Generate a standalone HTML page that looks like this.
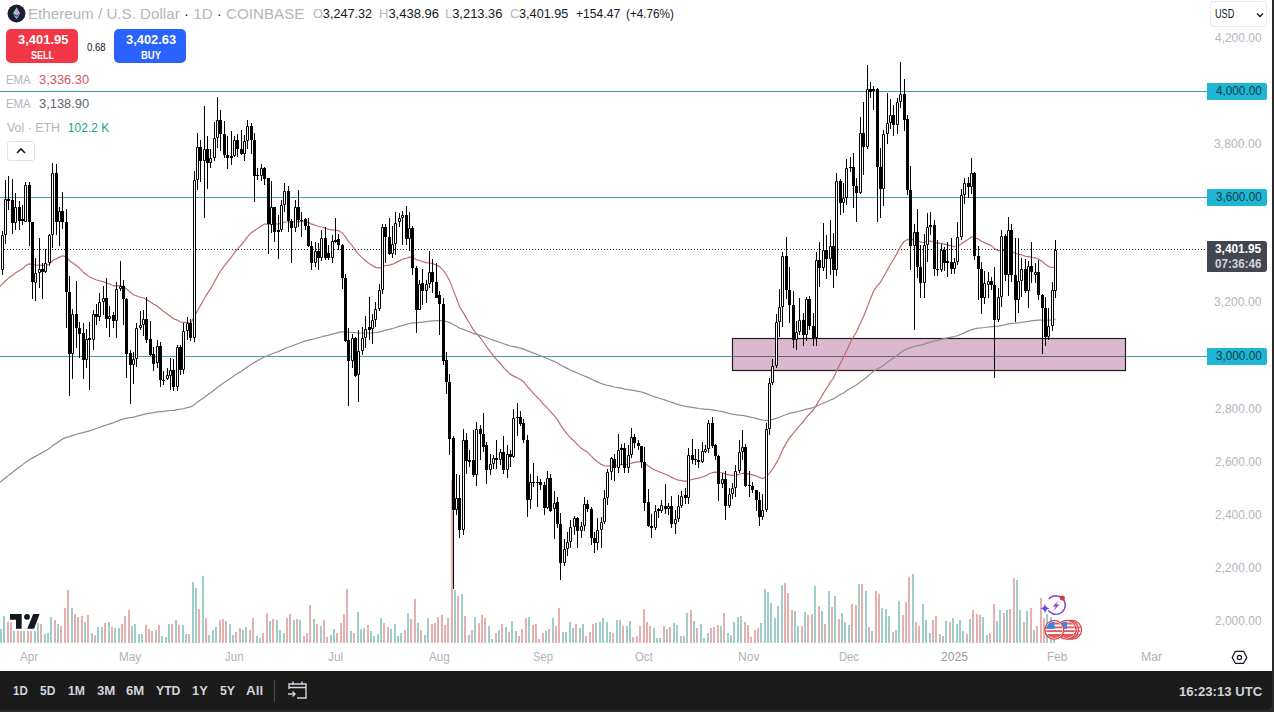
<!DOCTYPE html>
<html><head><meta charset="utf-8">
<style>
*{margin:0;padding:0;box-sizing:border-box}
html,body{width:1274px;height:712px;overflow:hidden;background:#2a2a2a;font-family:"Liberation Sans",sans-serif}
#wrap{position:absolute;left:0;top:0;width:1274px;height:712px;background:#2a2a2a}
#chartarea{position:absolute;left:0;top:0;width:1272px;height:671px;background:#fff;overflow:hidden}
.chart{position:absolute;left:0;top:0}
#toolbar{position:absolute;left:0;top:671px;width:1272px;height:39px;background:#1b1b1b;border-bottom-right-radius:5px}
.t{position:absolute;white-space:nowrap;line-height:1;transform-origin:0 0}
.title{left:30px;top:6px;font-size:15px;color:#b2b5be}
.ohlc{top:7px;font-size:13px;color:#131722}
.ohlc b{font-weight:normal;color:#b2b5be}
.btn{position:absolute;top:29px;width:72px;height:34px;border-radius:5px;color:#fff;text-align:center}
.btn .p{position:absolute;left:0;right:0;top:4px;font-size:13px;font-weight:bold;line-height:1}
.btn .l{position:absolute;left:0;right:0;top:19px;font-size:11px;line-height:1}
.leg{font-size:12px;color:#b2b5be;left:7px}
.ax{font-size:12px;color:#b2b5be;left:1215px}
.lbl{position:absolute;left:1207px;width:60px;height:17px;background:#1fb6d1;border-radius:0 2px 2px 0;color:#0d3a4c;font-size:12px;line-height:17px;padding-left:8px}
.tm{font-size:12px;color:#b2b5be;top:651px}
.tb{font-size:14px;color:#d1d4dc;top:684px;font-weight:bold}
</style></head><body><div id="wrap">
<div id="chartarea">
<svg class="chart" width="1272" height="671" viewBox="0 0 1272 671">
<path fill="#9fcdc9" d="M0 629h2V643h-2zM3 616h2V643h-2zM13 631h2V643h-2zM23 631h2V643h-2zM34 631h2V643h-2zM37 623h2V643h-2zM44 634h2V643h-2zM47 633h2V643h-2zM50 617h2V643h-2zM57 624h2V643h-2zM71 608h2V643h-2zM84 622h2V643h-2zM91 633h2V643h-2zM97 627h2V643h-2zM101 627h2V643h-2zM108 622h2V643h-2zM114 628h2V643h-2zM118 628h2V643h-2zM131 626h2V643h-2zM134 624h2V643h-2zM138 634h2V643h-2zM141 634h2V643h-2zM155 630h2V643h-2zM161 636h2V643h-2zM165 637h2V643h-2zM168 624h2V643h-2zM175 620h2V643h-2zM182 625h2V643h-2zM185 634h2V643h-2zM192 582h2V643h-2zM195 588h2V643h-2zM202 576h2V643h-2zM208 635h2V643h-2zM212 630h2V643h-2zM215 627h2V643h-2zM229 624h2V643h-2zM232 635h2V643h-2zM242 630h2V643h-2zM245 627h2V643h-2zM256 636h2V643h-2zM259 638h2V643h-2zM269 621h2V643h-2zM276 620h2V643h-2zM279 630h2V643h-2zM283 633h2V643h-2zM293 620h2V643h-2zM299 620h2V643h-2zM313 619h2V643h-2zM320 626h2V643h-2zM330 635h2V643h-2zM333 629h2V643h-2zM350 631h2V643h-2zM357 612h2V643h-2zM360 629h2V643h-2zM363 628h2V643h-2zM370 631h2V643h-2zM373 636h2V643h-2zM377 634h2V643h-2zM380 618h2V643h-2zM390 629h2V643h-2zM394 624h2V643h-2zM397 636h2V643h-2zM400 633h2V643h-2zM407 613h2V643h-2zM417 623h2V643h-2zM424 635h2V643h-2zM427 618h2V643h-2zM454 590h2V643h-2zM461 594h2V643h-2zM468 635h2V643h-2zM474 617h2V643h-2zM488 626h2V643h-2zM491 639h2V643h-2zM498 630h2V643h-2zM505 627h2V643h-2zM511 621h2V643h-2zM515 631h2V643h-2zM528 617h2V643h-2zM545 631h2V643h-2zM552 618h2V643h-2zM562 632h2V643h-2zM565 632h2V643h-2zM569 622h2V643h-2zM572 628h2V643h-2zM579 628h2V643h-2zM582 624h2V643h-2zM595 623h2V643h-2zM599 622h2V643h-2zM602 618h2V643h-2zM606 622h2V643h-2zM609 632h2V643h-2zM616 620h2V643h-2zM619 620h2V643h-2zM626 626h2V643h-2zM629 621h2V643h-2zM653 628h2V643h-2zM656 638h2V643h-2zM659 638h2V643h-2zM666 629h2V643h-2zM673 623h2V643h-2zM676 625h2V643h-2zM680 636h2V643h-2zM686 613h2V643h-2zM693 621h2V643h-2zM700 624h2V643h-2zM703 638h2V643h-2zM707 633h2V643h-2zM720 626h2V643h-2zM727 633h2V643h-2zM730 635h2V643h-2zM733 622h2V643h-2zM737 617h2V643h-2zM740 616h2V643h-2zM760 623h2V643h-2zM764 589h2V643h-2zM767 592h2V643h-2zM770 603h2V643h-2zM774 618h2V643h-2zM777 606h2V643h-2zM781 585h2V643h-2zM794 611h2V643h-2zM797 626h2V643h-2zM804 612h2V643h-2zM814 586h2V643h-2zM821 611h2V643h-2zM828 591h2V643h-2zM834 596h2V643h-2zM841 613h2V643h-2zM844 622h2V643h-2zM848 625h2V643h-2zM858 584h2V643h-2zM865 591h2V643h-2zM871 631h2V643h-2zM881 608h2V643h-2zM885 609h2V643h-2zM888 616h2V643h-2zM895 630h2V643h-2zM898 601h2V643h-2zM912 574h2V643h-2zM922 604h2V643h-2zM925 620h2V643h-2zM929 633h2V643h-2zM939 634h2V643h-2zM945 621h2V643h-2zM952 618h2V643h-2zM956 624h2V643h-2zM959 620h2V643h-2zM962 631h2V643h-2zM969 619h2V643h-2zM982 617h2V643h-2zM986 635h2V643h-2zM996 621h2V643h-2zM999 610h2V643h-2zM1006 610h2V643h-2zM1016 580h2V643h-2zM1019 610h2V643h-2zM1026 611h2V643h-2zM1033 630h2V643h-2zM1046 614h2V643h-2zM1050 617h2V643h-2zM1053 625h2V643h-2z"/>
<path fill="#e6b0ae" d="M7 622h2V643h-2zM10 622h2V643h-2zM17 631h2V643h-2zM20 631h2V643h-2zM27 631h2V643h-2zM30 631h2V643h-2zM40 624h2V643h-2zM54 620h2V643h-2zM60 626h2V643h-2zM64 608h2V643h-2zM67 590h2V643h-2zM74 614h2V643h-2zM77 617h2V643h-2zM81 616h2V643h-2zM87 615h2V643h-2zM94 635h2V643h-2zM104 623h2V643h-2zM111 627h2V643h-2zM121 624h2V643h-2zM124 616h2V643h-2zM128 610h2V643h-2zM145 625h2V643h-2zM148 629h2V643h-2zM151 631h2V643h-2zM158 625h2V643h-2zM171 624h2V643h-2zM178 625h2V643h-2zM188 634h2V643h-2zM198 609h2V643h-2zM205 618h2V643h-2zM219 620h2V643h-2zM222 619h2V643h-2zM225 621h2V643h-2zM235 632h2V643h-2zM239 628h2V643h-2zM249 630h2V643h-2zM252 618h2V643h-2zM262 633h2V643h-2zM266 613h2V643h-2zM272 619h2V643h-2zM286 618h2V643h-2zM289 614h2V643h-2zM296 619h2V643h-2zM303 636h2V643h-2zM306 633h2V643h-2zM309 605h2V643h-2zM316 624h2V643h-2zM323 620h2V643h-2zM326 637h2V643h-2zM336 633h2V643h-2zM340 623h2V643h-2zM343 614h2V643h-2zM346 589h2V643h-2zM353 633h2V643h-2zM367 625h2V643h-2zM383 623h2V643h-2zM387 627h2V643h-2zM404 630h2V643h-2zM410 619h2V643h-2zM414 599h2V643h-2zM420 630h2V643h-2zM431 624h2V643h-2zM434 623h2V643h-2zM437 617h2V643h-2zM441 615h2V643h-2zM444 625h2V643h-2zM447 618h2V643h-2zM451 480h2V643h-2zM457 596h2V643h-2zM464 616h2V643h-2zM471 630h2V643h-2zM478 623h2V643h-2zM481 615h2V643h-2zM484 618h2V643h-2zM495 633h2V643h-2zM501 624h2V643h-2zM508 632h2V643h-2zM518 636h2V643h-2zM521 629h2V643h-2zM525 618h2V643h-2zM532 625h2V643h-2zM535 624h2V643h-2zM538 639h2V643h-2zM542 633h2V643h-2zM548 629h2V643h-2zM555 626h2V643h-2zM558 608h2V643h-2zM575 624h2V643h-2zM585 636h2V643h-2zM589 632h2V643h-2zM592 624h2V643h-2zM612 633h2V643h-2zM622 626h2V643h-2zM632 637h2V643h-2zM636 636h2V643h-2zM639 626h2V643h-2zM643 609h2V643h-2zM646 622h2V643h-2zM649 626h2V643h-2zM663 626h2V643h-2zM669 627h2V643h-2zM683 636h2V643h-2zM690 610h2V643h-2zM696 628h2V643h-2zM710 628h2V643h-2zM713 627h2V643h-2zM717 625h2V643h-2zM723 613h2V643h-2zM744 622h2V643h-2zM747 625h2V643h-2zM750 637h2V643h-2zM754 630h2V643h-2zM757 628h2V643h-2zM784 583h2V643h-2zM787 593h2V643h-2zM791 610h2V643h-2zM801 626h2V643h-2zM807 615h2V643h-2zM811 614h2V643h-2zM818 606h2V643h-2zM824 624h2V643h-2zM831 607h2V643h-2zM838 619h2V643h-2zM851 604h2V643h-2zM855 605h2V643h-2zM861 584h2V643h-2zM868 627h2V643h-2zM875 591h2V643h-2zM878 594h2V643h-2zM892 632h2V643h-2zM902 615h2V643h-2zM905 602h2V643h-2zM908 577h2V643h-2zM915 622h2V643h-2zM918 626h2V643h-2zM932 620h2V643h-2zM935 616h2V643h-2zM942 636h2V643h-2zM949 622h2V643h-2zM966 634h2V643h-2zM972 610h2V643h-2zM976 614h2V643h-2zM979 615h2V643h-2zM989 633h2V643h-2zM993 604h2V643h-2zM1003 613h2V643h-2zM1009 609h2V643h-2zM1013 578h2V643h-2zM1023 622h2V643h-2zM1030 608h2V643h-2zM1036 626h2V643h-2zM1040 598h2V643h-2zM1043 618h2V643h-2z"/>
<path d="M0 91.5H1207" stroke="#4c9ba8" stroke-width="1"/>
<path d="M0 197.5H1207" stroke="#4c9ba8" stroke-width="1"/>
<path d="M0 356.5H1207" stroke="#4c9ba8" stroke-width="1"/>
<rect x="732.5" y="338.5" width="393" height="32" fill="#dcb8cf" stroke="#221c22" stroke-width="1.2"/>
<path d="M733 356.5H1125" stroke="#60627e" stroke-width="1"/>
<path d="M1 249.5H1207" stroke="#131722" stroke-width="1" stroke-dasharray="1 2"/>
<polyline fill="none" stroke="#c06c72" stroke-width="1.2" stroke-linejoin="round" points="0,286.4 2.2,284.1 5.6,280.8 9,277.6 12.3,275.5 15.7,272.8 19.1,270.8 22.4,268.8 25.8,265.6 29.2,263.8 32.5,264.6 35.9,264.9 39.3,265.1 42.6,265.3 46,265.2 49.4,264 52.7,260.5 56.1,258.9 59.5,257.1 62.8,255.7 66.2,257.1 69.6,260.9 72.9,263 76.3,265.6 79.6,268.2 83,271.9 86.4,274.5 89.7,277.1 93.1,278.5 96.5,280 99.8,280.9 103.2,281.6 106.6,283.1 109.9,284.3 113.3,285.8 116.7,285.9 120,285.9 123.4,286.4 126.8,289.1 130.1,292.1 133.5,294.7 136.9,296 140.2,297.2 143.6,298 146.9,299.7 150.3,301.8 153.7,304.3 157,305.9 160.4,308.8 163.8,311.6 167.1,314.1 170.5,316.2 173.9,319 177.2,320.1 180.6,322.1 184,322.4 187.3,322.4 190.7,323 194.1,317.4 197.4,310.7 200.8,304.9 204.2,298.8 207.5,293.4 210.9,288.1 214.2,282.2 217.6,275.9 221,270.3 224.3,265.8 227.7,261.6 231.1,257.4 234.4,252.8 237.8,248.7 241.2,245 244.5,240.9 247.9,236.4 251.3,232.7 254.6,230.4 258,228.2 261.4,225.9 264.7,224 268.1,224.1 271.5,223.4 274.8,223.8 278.2,224 281.5,223.2 284.9,222 288.3,222 291.6,222.2 295,221.6 298.4,221.6 301.7,221.5 305.1,221.6 308.5,222.6 311.8,224.2 315.2,225.2 318.6,226.5 321.9,227 325.3,228.2 328.7,229.4 332,229.8 335.4,230.2 338.8,230.8 342.1,232.7 345.5,236.9 348.8,241.8 352.2,245.6 355.6,250.7 358.9,254.6 362.3,257.9 365.7,260.7 369,263.4 372.4,265.6 375.8,267.4 379.1,268.2 382.5,266.6 385.9,265.5 389.2,265.1 392.6,264.2 396,262.6 399.3,260.9 402.7,259 406.1,258.3 409.4,257.1 412.8,257.5 416.1,259.6 419.5,260.5 422.9,261.7 426.2,262.6 429.6,263 433,263.7 436.3,265.1 439.7,266.6 443.1,270.3 446.4,274.7 449.8,281.1 453.2,290.1 456.5,298.3 459.9,307.4 463.3,312.6 466.6,318.4 470,324 473.4,329.9 476.7,333.8 480.1,337.7 483.4,342 486.8,347 490.2,351.6 493.5,355.8 496.9,359.9 500.3,363.5 503.6,367.6 507,371 510.4,374.4 513.7,376.1 517.1,377.7 520.5,379.5 523.8,381.9 527.2,386.5 530.6,390.2 533.9,393.9 537.3,397.4 540.7,400.8 544,405 547.4,407.9 550.7,411.9 554.1,415.5 557.5,419.8 560.8,425.4 564.2,430.2 567.6,434.6 570.9,438.2 574.3,441.4 577.7,444.9 581,448.1 584.4,450.2 587.8,452.6 591.1,455.9 594.5,459.3 597.9,462.1 601.2,464.4 604.6,465.8 608,466 611.3,465.7 614.7,465.8 618,465.2 621.4,464.5 624.8,464.7 628.1,464.3 631.5,463.2 634.9,462.4 638.2,461.8 641.6,461.8 645,463.4 648.3,465.9 651.7,468.3 655.1,470 658.4,471.5 661.8,472.8 665.2,474.2 668.5,475.5 671.9,477.4 675.2,479 678.6,480.1 682,480.7 685.3,481.3 688.7,480.3 692.1,479.5 695.4,478.7 698.8,478.1 702.2,477 705.5,475.9 708.9,473.8 712.3,472.7 715.6,472.1 719,472.5 722.4,472.8 725.7,474.1 729.1,474.9 732.5,475.4 735.8,475.2 739.2,474.3 742.6,473.2 745.9,473.7 749.3,474.2 752.6,474.8 756,475.8 759.4,477.4 762.7,478.7 766.1,476.8 769.5,473.1 772.8,468.9 776.2,463.1 779.6,457 782.9,449.1 786.3,442.9 789.7,437.5 793,433.7 796.4,429.7 799.8,425.4 803.1,421.9 806.5,417.1 809.9,413.5 813.2,410.5 816.6,404.6 819.9,399.3 823.3,393.4 826.7,388.2 830,382.6 833.4,378.2 836.8,370.5 840.1,363.9 843.5,357.4 846.9,350 850.2,342.8 853.6,336.7 857,331 860.3,323.2 863.7,316.3 867.1,307.4 870.4,298.9 873.8,290.7 877.2,285.9 880.5,282.1 883.9,276.3 887.2,270.3 890.6,264.2 894,258.7 897.3,252.6 900.7,246.4 904.1,241.4 907.4,239.4 910.8,239.7 914.2,239.4 917.5,240.5 920.9,242.2 924.3,242.3 927.6,241.7 931,241 934.4,242.1 937.7,243.2 941.1,243.4 944.5,244.2 947.8,244.9 951.2,245.8 954.5,246.5 957.9,246.1 961.3,244.1 964.6,241.7 968,239.6 971.4,236.9 974.7,237.7 978.1,238.9 981.5,241.2 984.8,242.9 988.2,244.4 991.6,245.9 994.9,248.9 998.3,250.7 1001.7,250.1 1005,251.1 1008.4,250.3 1011.8,251.3 1015.1,253.2 1018.5,254.3 1021.8,254.8 1025.2,256.3 1028.6,256.7 1031.9,257.3 1035.3,257.8 1038.7,259.3 1042,261.2 1045.4,264.2 1048.8,266.6 1052.1,267.5 1055.5,266.8"/>
<polyline fill="none" stroke="#8e8e8e" stroke-width="1.2" stroke-linejoin="round" points="0,482.4 2.2,480.5 5.6,477.7 9,474.9 12.3,472.4 15.7,469.8 19.1,467.3 22.4,464.9 25.8,462.1 29.2,459.7 32.5,457.9 35.9,456.1 39.3,454.2 42.6,452.4 46,450.5 49.4,448.4 52.7,445.6 56.1,443.4 59.5,441.1 62.8,438.9 66.2,437.4 69.6,436.6 72.9,435.4 76.3,434.3 79.6,433.3 83,432.6 86.4,431.7 89.7,430.8 93.1,429.6 96.5,428.5 99.8,427.2 103.2,425.9 106.6,424.9 109.9,423.8 113.3,422.8 116.7,421.4 120,420.1 123.4,418.9 126.8,418.2 130.1,417.7 133.5,417.1 136.9,416.2 140.2,415.3 143.6,414.4 146.9,413.6 150.3,413.1 153.7,412.6 157,411.9 160.4,411.6 163.8,411.3 167.1,410.9 170.5,410.5 173.9,410.3 177.2,409.6 180.6,409.2 184,408.5 187.3,407.6 190.7,406.9 194.1,404.7 197.4,402.1 200.8,399.7 204.2,397.2 207.5,394.9 210.9,392.5 214.2,390 217.6,387.3 221,384.8 224.3,382.5 227.7,380.2 231.1,378 234.4,375.6 237.8,373.4 241.2,371.2 244.5,368.9 247.9,366.5 251.3,364.2 254.6,362.4 258,360.5 261.4,358.6 264.7,356.8 268.1,355.5 271.5,354 274.8,352.8 278.2,351.6 281.5,350.1 284.9,348.5 288.3,347.3 291.6,346.1 295,344.7 298.4,343.5 301.7,342.2 305.1,341.1 308.5,340.1 311.8,339.4 315.2,338.5 318.6,337.7 321.9,336.7 325.3,335.9 328.7,335.1 332,334.2 335.4,333.3 338.8,332.4 342.1,331.8 345.5,331.9 348.8,332.2 352.2,332.3 355.6,332.7 358.9,332.9 362.3,333 365.7,332.9 369,332.9 372.4,332.8 375.8,332.5 379.1,332.1 382.5,331.1 385.9,330.1 389.2,329.4 392.6,328.5 396,327.5 399.3,326.4 402.7,325.3 406.1,324.4 409.4,323.5 412.8,322.9 416.1,322.8 419.5,322.4 422.9,322.1 426.2,321.7 429.6,321.2 433,320.8 436.3,320.6 439.7,320.4 443.1,320.8 446.4,321.5 449.8,322.6 453.2,324.5 456.5,326.2 459.9,328.2 463.3,329.4 466.6,330.7 470,332 473.4,333.4 476.7,334.3 480.1,335.3 483.4,336.4 486.8,337.8 490.2,339 493.5,340.2 496.9,341.4 500.3,342.5 503.6,343.8 507,344.9 510.4,346 513.7,346.7 517.1,347.4 520.5,348.1 523.8,349.1 527.2,350.6 530.6,351.9 533.9,353.2 537.3,354.5 540.7,355.8 544,357.3 547.4,358.5 550.7,360 554.1,361.4 557.5,363 560.8,365 564.2,366.9 567.6,368.6 570.9,370.2 574.3,371.6 577.7,373.2 581,374.8 584.4,376 587.8,377.4 591.1,379 594.5,380.6 597.9,382.1 601.2,383.5 604.6,384.6 608,385.5 611.3,386.2 614.7,387 618,387.6 621.4,388.2 624.8,389.1 628.1,389.7 631.5,390.2 634.9,390.7 638.2,391.3 641.6,392 645,393.1 648.3,394.4 651.7,395.7 655.1,396.9 658.4,398 661.8,399 665.2,400.1 668.5,401.2 671.9,402.4 675.2,403.6 678.6,404.6 682,405.5 685.3,406.4 688.7,406.9 692.1,407.4 695.4,407.9 698.8,408.5 702.2,408.9 705.5,409.3 708.9,409.4 712.3,409.8 715.6,410.3 719,411 722.4,411.7 725.7,412.6 729.1,413.4 732.5,414.2 735.8,414.7 739.2,415.1 742.6,415.4 745.9,416.1 749.3,416.8 752.6,417.5 756,418.4 759.4,419.3 762.7,420.2 766.1,420.3 769.5,420 772.8,419.4 776.2,418.4 779.6,417.3 782.9,415.7 786.3,414.5 789.7,413.4 793,412.7 796.4,411.9 799.8,411 803.1,410.2 806.5,409.1 809.9,408.3 813.2,407.6 816.6,406.1 819.9,404.7 823.3,403.2 826.7,401.8 830,400.2 833.4,398.9 836.8,396.8 840.1,394.8 843.5,392.9 846.9,390.6 850.2,388.4 853.6,386.4 857,384.5 860.3,382 863.7,379.6 867.1,376.7 870.4,373.9 873.8,371.1 877.2,369 880.5,367.2 883.9,364.9 887.2,362.5 890.6,360.1 894,357.7 897.3,355.2 900.7,352.6 904.1,350.3 907.4,348.7 910.8,347.7 914.2,346.5 917.5,345.7 920.9,345.1 924.3,344.1 927.6,342.9 931,341.8 934.4,341 937.7,340.3 941.1,339.4 944.5,338.7 947.8,337.9 951.2,337.2 954.5,336.5 957.9,335.5 961.3,334.1 964.6,332.6 968,331.1 971.4,329.6 974.7,328.8 978.1,328.2 981.5,327.9 984.8,327.5 988.2,327 991.6,326.6 994.9,326.5 998.3,326.2 1001.7,325.3 1005,324.8 1008.4,323.9 1011.8,323.4 1015.1,323.2 1018.5,322.8 1021.8,322.2 1025.2,321.9 1028.6,321.4 1031.9,320.9 1035.3,320.4 1038.7,320.1 1042,320 1045.4,320.2 1048.8,320.2 1052.1,319.9 1055.5,319.2"/>
<path stroke="#000" stroke-width="1" d="M2.5 231V235M2.5 270V275M5.5 180V199M5.5 235V244M8.5 176V199M8.5 201V210M12.5 179V200M12.5 223V234M15.5 193V207M15.5 223V230M19.5 201V207M19.5 221V230M22.5 205V219M22.5 221V225M25.5 182V185M29.5 182V185M29.5 222V246M32.5 282V299M35.5 258V273M35.5 283V301M39.5 238V269M39.5 273V288M42.5 263V269M42.5 272V299M45.5 249V263M45.5 272V273M49.5 234V235M49.5 263V266M52.5 163V173M52.5 235V248M56.5 164V173M56.5 222V235M59.5 207V211M59.5 222V246M62.5 192V211M62.5 222V229M66.5 209V222M66.5 292V328M69.5 276V292M69.5 354V396M72.5 309V314M72.5 354V379M76.5 281V314M76.5 328V348M79.5 322V328M79.5 334V358M83.5 323V333M83.5 360V379M86.5 329V339M86.5 360V368M89.5 322V338M89.5 340V390M93.5 310V314M93.5 340V350M96.5 304V314M96.5 317V325M99.5 293V302M99.5 317V321M103.5 286V298M103.5 302V315M106.5 278V298M106.5 319V328M109.5 306V316M109.5 319V337M113.5 312V315M113.5 321V328M116.5 282V289M116.5 321V338M120.5 261V286M120.5 289V291M123.5 280V286M123.5 299V325M126.5 298V299M126.5 354V378M130.5 350V353M130.5 365V404M133.5 352V359M133.5 365V384M136.5 323V328M136.5 359V367M140.5 311V325M140.5 328V330M143.5 310V319M143.5 325V336M146.5 297V319M146.5 340V343M150.5 321V339M150.5 355V356M153.5 347V354M153.5 364V371M157.5 340V346M157.5 363V368M160.5 342V346M160.5 380V387M163.5 371V380M163.5 381V385M167.5 368V375M167.5 379V380M170.5 358V370M170.5 376V390M173.5 359V370M173.5 387V391M177.5 345V347M177.5 387V391M180.5 345V347M180.5 370V375M183.5 323V331M183.5 370V374M187.5 317V323M187.5 331V340M190.5 319V323M190.5 338V341M194.5 171V180M194.5 338V342M197.5 133V147M197.5 180V190M200.5 140V147M200.5 161V182M204.5 106V149M204.5 161V218M207.5 136V149M207.5 163V189M210.5 149V158M210.5 163V168M214.5 122V138M214.5 158V161M217.5 97V120M217.5 138V148M220.5 110V120M220.5 134V151M224.5 121V134M224.5 155V158M227.5 136V155M227.5 158V169M231.5 131V156M231.5 158V165M234.5 136V140M234.5 156V157M237.5 134V140M237.5 149V157M241.5 130V149M241.5 154V155M244.5 135V141M244.5 154V161M247.5 120V126M247.5 141V149M251.5 123V126M251.5 140V154M254.5 133V140M254.5 176V202M257.5 168V175M257.5 176V180M261.5 164V168M261.5 176V181M264.5 167V168M264.5 179V185M268.5 224V254M271.5 181V207M271.5 225V233M274.5 232V242M278.5 215V230M278.5 232V259M281.5 200V205M281.5 230V232M284.5 183V191M284.5 205V212M288.5 186V191M288.5 221V232M291.5 219V221M291.5 228V263M295.5 200V207M295.5 228V232M298.5 190V207M298.5 220V227M301.5 212V220M301.5 221V237M305.5 218V219M305.5 226V230M308.5 218V226M308.5 246V247M311.5 241V246M311.5 263V270M315.5 242V251M315.5 263V267M318.5 243V251M318.5 258V270M321.5 230V238M321.5 258V261M325.5 227V238M325.5 258V260M328.5 245V253M328.5 258V260M332.5 235V241M332.5 258V263M335.5 218V240M335.5 242V243M338.5 234V239M338.5 245V250M342.5 244V245M342.5 278V289M345.5 274V278M345.5 341V342M348.5 328V340M348.5 361V406M352.5 334V338M352.5 361V368M355.5 337V338M355.5 376V377M358.5 330V351M358.5 375V402M362.5 327V338M362.5 351V355M365.5 316V329M365.5 338V348M369.5 297V327M369.5 330V340M372.5 314V320M372.5 329V344M375.5 302V309M375.5 320V327M379.5 284V290M379.5 309V311M382.5 224V227M382.5 290V294M385.5 224V227M385.5 237V263M389.5 218V237M389.5 254V255M392.5 226V244M392.5 254V258M395.5 212V223M395.5 244V255M399.5 213V218M399.5 222V227M402.5 211V215M402.5 218V245M406.5 206V215M406.5 239V245M409.5 212V228M409.5 239V251M412.5 226V228M412.5 268V275M416.5 266V268M416.5 310V333M419.5 280V284M422.5 269V283M422.5 291V305M426.5 280V284M426.5 291V303M429.5 251V272M429.5 284V288M432.5 259V272M432.5 282V293M436.5 263V282M439.5 291V295M439.5 304V335M443.5 298V304M443.5 361V365M446.5 352V360M446.5 382V394M449.5 374V382M449.5 439V455M453.5 436V438M453.5 510V589M456.5 474V498M456.5 510V515M459.5 475V498M459.5 530V538M463.5 429V440M463.5 530V535M466.5 433V440M466.5 461V474M469.5 450V460M469.5 462V467M473.5 430V460M473.5 475V477M476.5 422V429M476.5 475V486M480.5 425V429M480.5 434V460M483.5 413V434M483.5 447V452M486.5 442V445M486.5 470V484M490.5 454V464M490.5 470V475M493.5 455V458M493.5 464V469M496.5 440V458M496.5 460V469M500.5 449V452M500.5 460V465M503.5 436V452M503.5 470V474M507.5 445V454M507.5 470V478M510.5 450V454M510.5 457V467M513.5 409V418M513.5 457V458M517.5 403V417M517.5 418V436M520.5 411V417M520.5 424V426M523.5 419V423M523.5 440V443M527.5 435V440M527.5 500V517M530.5 474V482M530.5 500V509M533.5 463V482M533.5 483V487M537.5 476V482M537.5 483V507M540.5 479V482M540.5 485V490M544.5 482V485M544.5 508V515M547.5 471V478M547.5 508V509M550.5 474V478M550.5 511V512M554.5 491V503M554.5 509V539M557.5 497V502M557.5 524V528M560.5 513V524M560.5 563V580M564.5 539V549M564.5 563V566M567.5 532V542M567.5 549V556M570.5 520V527M570.5 542V548M574.5 516V518M574.5 527V535M577.5 517V518M577.5 531V548M581.5 522V526M581.5 531V538M584.5 497V504M584.5 526V531M587.5 500V504M587.5 509V512M591.5 507V509M591.5 538V545M594.5 532V538M594.5 543V553M597.5 518V530M597.5 543V550M601.5 517V522M601.5 530V548M604.5 490V498M604.5 522V524M607.5 469V472M607.5 498V505M611.5 457V458M611.5 472V480M614.5 454V459M614.5 468V481M618.5 434V450M618.5 468V473M621.5 444V448M621.5 450V465M624.5 443V448M624.5 468V473M628.5 445V455M628.5 468V473M631.5 428V437M631.5 455V458M634.5 434V437M634.5 443V448M638.5 440V443M638.5 446V450M641.5 462V468M644.5 447V462M644.5 503V511M648.5 489V502M648.5 526V527M651.5 514V526M651.5 528V538M655.5 505V511M655.5 528V530M658.5 508V509M658.5 511V518M661.5 500V505M661.5 511V513M665.5 484V506M665.5 509V514M668.5 503V506M668.5 509V515M671.5 496V506M671.5 524V528M675.5 510V519M675.5 524V534M678.5 495V506M678.5 519V522M681.5 491V496M681.5 506V508M685.5 488V495M685.5 498V504M688.5 448V455M688.5 498V504M692.5 439V455M692.5 460V464M695.5 449V459M695.5 460V465M698.5 449V460M698.5 462V468M702.5 442V451M702.5 462V463M705.5 445V449M705.5 452V453M708.5 420V423M708.5 449V453M712.5 417V423M712.5 446V448M715.5 444V445M715.5 456V460M718.5 455V456M718.5 484V501M722.5 473V479M722.5 484V488M725.5 471V479M725.5 506V520M729.5 488V494M729.5 506V508M732.5 483V488M732.5 494V499M735.5 465V471M735.5 488V497M739.5 440V452M739.5 471V473M742.5 430V447M742.5 452V460M745.5 444V447M745.5 486V487M749.5 471V485M749.5 486V497M752.5 482V486M752.5 490V493M756.5 500V511M759.5 492V500M759.5 517V526M762.5 494V510M762.5 517V520M766.5 423V429M766.5 510V512M769.5 378V383M769.5 429V435M772.5 359V366M772.5 383V385M776.5 314V322M776.5 366V368M779.5 289V307M779.5 322V337M782.5 252V256M782.5 307V327M786.5 237V256M786.5 290V299M789.5 267V290M789.5 305V323M793.5 291V305M793.5 340V348M796.5 321V332M796.5 340V350M799.5 298V320M799.5 332V335M803.5 313V320M803.5 335V346M806.5 297V299M806.5 335V341M809.5 296V299M809.5 326V330M813.5 313V326M813.5 338V346M816.5 252V260M816.5 338V346M819.5 242V260M819.5 268V287M823.5 223V250M823.5 268V271M826.5 235V250M826.5 259V279M830.5 220V246M830.5 259V275M833.5 233V246M833.5 270V288M836.5 173V181M836.5 270V276M840.5 179V181M840.5 203V215M843.5 183V198M843.5 203V213M846.5 159V168M846.5 198V205M850.5 157V167M850.5 168V172M853.5 153V167M853.5 186V208M856.5 178V186M856.5 193V222M860.5 117V133M860.5 193V194M863.5 102V133M863.5 147V175M867.5 65V89M867.5 147V149M870.5 82V89M870.5 92V98M873.5 86V89M873.5 91V110M877.5 88V89M877.5 167V222M880.5 148V167M880.5 189V218M883.5 130V134M883.5 189V206M887.5 93V123M887.5 134V144M890.5 99V115M890.5 123V129M893.5 105V115M893.5 125V136M897.5 98V102M897.5 125V134M900.5 62V94M900.5 102V108M904.5 79V94M904.5 120V131M907.5 115V119M907.5 190V195M910.5 166V190M910.5 246V270M914.5 224V232M914.5 246V330M917.5 209V232M917.5 267V278M920.5 245V267M920.5 283V298M924.5 234V245M924.5 283V298M927.5 213V227M927.5 245V262M930.5 212V225M930.5 227V235M934.5 220V225M934.5 269V276M937.5 240V269M937.5 270V276M941.5 244V250M941.5 270V272M944.5 247V250M944.5 263V271M947.5 242V261M947.5 263V277M951.5 238V262M951.5 269V274M954.5 258V262M954.5 269V274M957.5 222V237M957.5 262V265M961.5 189V195M961.5 237V240M964.5 178V183M964.5 195V204M968.5 177V183M968.5 187V198M971.5 158V173M971.5 187V194M974.5 172V173M974.5 256V260M978.5 246V256M978.5 269V300M981.5 262V269M981.5 298V314M984.5 271V283M984.5 298V304M988.5 272V281M988.5 285V298M991.5 277V281M991.5 285V290M994.5 267V285M994.5 320V378M998.5 288V297M998.5 320V322M1001.5 230V236M1001.5 297V307M1005.5 234V236M1005.5 275V281M1008.5 217V230M1008.5 275V296M1011.5 224V230M1011.5 275V282M1015.5 238V275M1015.5 300V322M1018.5 238V281M1018.5 300V313M1021.5 258V269M1021.5 281V297M1025.5 259V269M1025.5 291V293M1028.5 261V266M1028.5 291V308M1031.5 242V266M1031.5 272V283M1035.5 263V272M1035.5 275V283M1038.5 260V272M1038.5 295V300M1042.5 294V295M1042.5 308V354M1045.5 297V308M1045.5 337V346M1048.5 308V326M1048.5 337V340M1052.5 282V290M1052.5 326V331M1055.5 240V250M1055.5 291V298"/>
<path fill="#000" d="M7 199h3v2h-3zM11 200h3v23h-3zM18 207h3v14h-3zM21 219h3v2h-3zM28 185h3v37h-3zM31 222h3v60h-3zM41 269h3v3h-3zM55 173h3v49h-3zM61 211h3v11h-3zM65 222h3v70h-3zM68 292h3v62h-3zM75 314h3v14h-3zM78 328h3v6h-3zM82 333h3v27h-3zM88 338h3v2h-3zM95 314h3v3h-3zM105 298h3v21h-3zM112 315h3v6h-3zM122 286h3v13h-3zM125 299h3v55h-3zM129 353h3v12h-3zM145 319h3v21h-3zM149 339h3v16h-3zM152 354h3v10h-3zM159 346h3v34h-3zM162 380h3v1h-3zM172 370h3v17h-3zM179 347h3v23h-3zM189 323h3v15h-3zM199 147h3v14h-3zM206 149h3v14h-3zM219 120h3v14h-3zM223 134h3v21h-3zM226 155h3v3h-3zM230 156h3v2h-3zM236 140h3v9h-3zM240 149h3v5h-3zM250 126h3v14h-3zM253 140h3v36h-3zM256 175h3v1h-3zM263 168h3v11h-3zM267 178h3v46h-3zM273 207h3v25h-3zM277 230h3v2h-3zM287 191h3v30h-3zM290 221h3v7h-3zM297 207h3v13h-3zM300 220h3v1h-3zM304 219h3v7h-3zM307 226h3v20h-3zM310 246h3v17h-3zM317 251h3v7h-3zM324 238h3v20h-3zM327 253h3v5h-3zM334 240h3v2h-3zM337 239h3v6h-3zM341 245h3v33h-3zM344 278h3v63h-3zM347 340h3v21h-3zM354 338h3v38h-3zM368 327h3v3h-3zM384 227h3v10h-3zM388 237h3v17h-3zM405 215h3v24h-3zM411 228h3v40h-3zM415 268h3v42h-3zM421 283h3v8h-3zM431 272h3v10h-3zM435 282h3v16h-3zM438 295h3v9h-3zM442 304h3v57h-3zM445 360h3v22h-3zM448 382h3v57h-3zM452 438h3v72h-3zM458 498h3v32h-3zM465 440h3v21h-3zM468 460h3v2h-3zM472 460h3v15h-3zM479 429h3v5h-3zM482 434h3v13h-3zM485 445h3v25h-3zM495 458h3v2h-3zM502 452h3v18h-3zM509 454h3v3h-3zM516 417h3v1h-3zM519 417h3v7h-3zM522 423h3v17h-3zM526 440h3v60h-3zM532 482h3v1h-3zM536 482h3v1h-3zM539 482h3v3h-3zM543 485h3v23h-3zM549 478h3v33h-3zM556 502h3v22h-3zM559 524h3v39h-3zM576 518h3v13h-3zM586 504h3v5h-3zM590 509h3v29h-3zM593 538h3v5h-3zM613 459h3v9h-3zM620 448h3v2h-3zM623 448h3v20h-3zM633 437h3v6h-3zM637 443h3v3h-3zM640 446h3v16h-3zM643 462h3v41h-3zM647 502h3v24h-3zM650 526h3v2h-3zM657 509h3v2h-3zM664 506h3v3h-3zM670 506h3v18h-3zM684 495h3v3h-3zM691 455h3v5h-3zM694 459h3v1h-3zM697 460h3v2h-3zM711 423h3v23h-3zM714 445h3v11h-3zM717 456h3v28h-3zM724 479h3v27h-3zM744 447h3v39h-3zM748 485h3v1h-3zM751 486h3v4h-3zM755 490h3v10h-3zM758 500h3v17h-3zM785 256h3v34h-3zM788 290h3v15h-3zM792 305h3v35h-3zM802 320h3v15h-3zM808 299h3v27h-3zM812 326h3v12h-3zM818 260h3v8h-3zM825 250h3v9h-3zM832 246h3v24h-3zM839 181h3v22h-3zM849 167h3v1h-3zM852 167h3v19h-3zM855 186h3v7h-3zM862 133h3v14h-3zM869 89h3v3h-3zM872 89h3v2h-3zM876 89h3v78h-3zM879 167h3v22h-3zM892 115h3v10h-3zM903 94h3v26h-3zM906 119h3v71h-3zM909 190h3v56h-3zM916 232h3v35h-3zM919 267h3v16h-3zM929 225h3v2h-3zM933 225h3v44h-3zM936 269h3v1h-3zM943 250h3v13h-3zM946 261h3v2h-3zM950 262h3v7h-3zM967 183h3v4h-3zM973 173h3v83h-3zM977 256h3v13h-3zM980 269h3v29h-3zM990 281h3v4h-3zM993 285h3v35h-3zM1004 236h3v39h-3zM1010 230h3v45h-3zM1014 275h3v25h-3zM1024 269h3v22h-3zM1030 266h3v6h-3zM1037 272h3v23h-3zM1041 295h3v13h-3zM1044 308h3v29h-3z"/>
<path fill="#fff" stroke="#000" stroke-width="1" d="M1.5 235.5 h2v34h-2zM4.5 199.5 h2v35h-2zM14.5 207.5 h2v15h-2zM24.5 185.5 h2v36h-2zM34.5 273.5 h2v9h-2zM38.5 269.5 h2v3h-2zM44.5 263.5 h2v8h-2zM48.5 235.5 h2v27h-2zM51.5 173.5 h2v61h-2zM58.5 211.5 h2v10h-2zM71.5 314.5 h2v39h-2zM85.5 339.5 h2v20h-2zM92.5 314.5 h2v25h-2zM98.5 302.5 h2v14h-2zM102.5 298.5 h2v3h-2zM108.5 316.5 h2v2h-2zM115.5 289.5 h2v31h-2zM119.5 286.5 h2v2h-2zM132.5 359.5 h2v5h-2zM135.5 328.5 h2v30h-2zM139.5 325.5 h2v2h-2zM142.5 319.5 h2v5h-2zM156.5 346.5 h2v16h-2zM166.5 375.5 h2v3h-2zM169.5 370.5 h2v5h-2zM176.5 347.5 h2v39h-2zM182.5 331.5 h2v38h-2zM186.5 323.5 h2v7h-2zM193.5 180.5 h2v157h-2zM196.5 147.5 h2v32h-2zM203.5 149.5 h2v11h-2zM209.5 158.5 h2v4h-2zM213.5 138.5 h2v19h-2zM216.5 120.5 h2v17h-2zM233.5 140.5 h2v15h-2zM243.5 141.5 h2v12h-2zM246.5 126.5 h2v14h-2zM260.5 168.5 h2v7h-2zM270.5 207.5 h2v17h-2zM280.5 205.5 h2v24h-2zM283.5 191.5 h2v13h-2zM294.5 207.5 h2v20h-2zM314.5 251.5 h2v11h-2zM320.5 238.5 h2v19h-2zM331.5 241.5 h2v16h-2zM351.5 338.5 h2v22h-2zM357.5 351.5 h2v23h-2zM361.5 338.5 h2v12h-2zM364.5 329.5 h2v8h-2zM371.5 320.5 h2v8h-2zM374.5 309.5 h2v10h-2zM378.5 290.5 h2v18h-2zM381.5 227.5 h2v62h-2zM391.5 244.5 h2v9h-2zM394.5 223.5 h2v20h-2zM398.5 218.5 h2v3h-2zM401.5 215.5 h2v2h-2zM408.5 228.5 h2v10h-2zM418.5 284.5 h2v25h-2zM425.5 284.5 h2v6h-2zM428.5 272.5 h2v11h-2zM455.5 498.5 h2v11h-2zM462.5 440.5 h2v89h-2zM475.5 429.5 h2v45h-2zM489.5 464.5 h2v5h-2zM492.5 458.5 h2v5h-2zM499.5 452.5 h2v7h-2zM506.5 454.5 h2v15h-2zM512.5 418.5 h2v38h-2zM529.5 482.5 h2v17h-2zM546.5 478.5 h2v29h-2zM553.5 503.5 h2v5h-2zM563.5 549.5 h2v13h-2zM566.5 542.5 h2v6h-2zM569.5 527.5 h2v14h-2zM573.5 518.5 h2v8h-2zM580.5 526.5 h2v4h-2zM583.5 504.5 h2v21h-2zM596.5 530.5 h2v12h-2zM600.5 522.5 h2v7h-2zM603.5 498.5 h2v23h-2zM606.5 472.5 h2v25h-2zM610.5 458.5 h2v13h-2zM617.5 450.5 h2v17h-2zM627.5 455.5 h2v12h-2zM630.5 437.5 h2v17h-2zM654.5 511.5 h2v16h-2zM660.5 505.5 h2v5h-2zM667.5 506.5 h2v2h-2zM674.5 519.5 h2v4h-2zM677.5 506.5 h2v12h-2zM680.5 496.5 h2v9h-2zM687.5 455.5 h2v42h-2zM701.5 451.5 h2v10h-2zM704.5 449.5 h2v2h-2zM707.5 423.5 h2v25h-2zM721.5 479.5 h2v4h-2zM728.5 494.5 h2v11h-2zM731.5 488.5 h2v5h-2zM734.5 471.5 h2v16h-2zM738.5 452.5 h2v18h-2zM741.5 447.5 h2v4h-2zM761.5 510.5 h2v6h-2zM765.5 429.5 h2v80h-2zM768.5 383.5 h2v45h-2zM771.5 366.5 h2v16h-2zM775.5 322.5 h2v43h-2zM778.5 307.5 h2v14h-2zM781.5 256.5 h2v50h-2zM795.5 332.5 h2v7h-2zM798.5 320.5 h2v11h-2zM805.5 299.5 h2v35h-2zM815.5 260.5 h2v77h-2zM822.5 250.5 h2v17h-2zM829.5 246.5 h2v12h-2zM835.5 181.5 h2v88h-2zM842.5 198.5 h2v4h-2zM845.5 168.5 h2v29h-2zM859.5 133.5 h2v59h-2zM866.5 89.5 h2v57h-2zM882.5 134.5 h2v54h-2zM886.5 123.5 h2v10h-2zM889.5 115.5 h2v7h-2zM896.5 102.5 h2v22h-2zM899.5 94.5 h2v7h-2zM913.5 232.5 h2v13h-2zM923.5 245.5 h2v37h-2zM926.5 227.5 h2v17h-2zM940.5 250.5 h2v19h-2zM953.5 262.5 h2v6h-2zM956.5 237.5 h2v24h-2zM960.5 195.5 h2v41h-2zM963.5 183.5 h2v11h-2zM970.5 173.5 h2v13h-2zM983.5 283.5 h2v14h-2zM987.5 281.5 h2v3h-2zM997.5 297.5 h2v22h-2zM1000.5 236.5 h2v60h-2zM1007.5 230.5 h2v44h-2zM1017.5 281.5 h2v18h-2zM1020.5 269.5 h2v11h-2zM1027.5 266.5 h2v24h-2zM1034.5 272.5 h2v2h-2zM1047.5 326.5 h2v10h-2zM1051.5 290.5 h2v35h-2zM1054.5 250.5 h2v40h-2z"/>
</svg>
<!-- header -->
<svg style="position:absolute;left:7px;top:4px" width="19" height="19" viewBox="0 0 19 19">
<circle cx="9.5" cy="9.5" r="9" fill="#1f1d35"/>
<path d="M9.5 3.5L6 9.6 9.5 11.6 13 9.6z" fill="#9fd6a8"/>
<path d="M9.5 3.5L13 9.6 9.5 11.6z" fill="#c79ad6"/>
<path d="M6 10.3L9.5 15.2 13 10.3 9.5 12.4z" fill="#6fb3de"/>
</svg>
<div class="btn" style="left:6px;background:#f23645"></div>
<div class="btn" style="left:114px;background:#2962ff"></div>
<div style="position:absolute;left:7px;top:141px;width:28px;height:20px;border:1px solid #e0e3eb;border-radius:3px;background:#fff"></div>
<svg style="position:absolute;left:15px;top:146px" width="12" height="10"><path d="M2 7L6 3 10 7" fill="none" stroke="#131722" stroke-width="1.6"/></svg>
<!-- usd -->
<div style="position:absolute;left:1210px;top:1px;width:57px;height:26px;border:1px solid #e6e8ee;border-radius:4px;background:#fff"></div>
<svg style="position:absolute;left:1256px;top:12px" width="8" height="6"><path d="M1 1.5L4 4.5 7 1.5" fill="none" stroke="#131722" stroke-width="1.4"/></svg>
<!-- axis -->
<div class="lbl" style="top:83px"></div>
<div class="lbl" style="top:189px"></div>
<div style="position:absolute;left:1207px;top:241px;width:60px;height:31px;background:#434651;border-radius:0 3px 3px 0"></div>
<div class="lbl" style="top:348px"></div>
<!-- time axis -->
<svg style="position:absolute;left:1231px;top:650px" width="18" height="16" viewBox="0 0 18 16"><path d="M4.4 1.3H12.6L15.8 7.5 12.6 13.3H4.4L1.2 7.5z" fill="none" stroke="#131722" stroke-width="1.25" stroke-linejoin="round"/><circle cx="8.4" cy="7.5" r="2.1" fill="none" stroke="#131722" stroke-width="1.2"/></svg>
<!-- tv logo -->
<svg style="position:absolute;left:0;top:606px" width="50" height="30" viewBox="0 606 50 30">
<rect x="13" y="619" width="23" height="12" fill="#fff"/>
<g fill="#131722" stroke="#fff" stroke-width="2.4" paint-order="stroke" stroke-linejoin="round">
<path d="M10 614H21.7V628.8H16V619.7H10z"/>
<circle cx="27" cy="616.8" r="2.9"/>
<path d="M33.2 614H39.6L34.1 628.8H27.2z"/>
</g>
</svg>
<!-- events -->
<svg style="position:absolute;left:1036px;top:592px" width="50" height="50" viewBox="0 0 50 50">
<path d="M12.8 7.1A9.3 9.3 0 1 1 12.3 18.4" fill="none" stroke="#8a3fd0" stroke-width="1.4"/>
<path d="M22.4 8.4L16.8 14.4H19.9L17.2 19.2 23.4 12.6H20.2z" fill="#8a3fd0"/>
<circle cx="26.4" cy="6.1" r="2.5" fill="#e0363f"/>
<path d="M9 11.6Q9.6 15.9 13.6 16.5 9.6 17.1 9 21.4 8.4 17.1 4.4 16.5 8.4 15.9 9 11.6z" fill="#6048f0"/>
<clipPath id="f4"><circle cx="36.1" cy="37.8" r="8.3"/></clipPath>
<circle cx="36.1" cy="37.8" r="9.4" fill="#fff" stroke="#d9434b" stroke-width="1.3"/>
<g clip-path="url(#f4)"><rect x="27.6" y="29.299999999999997" width="17" height="17" fill="#fff"/>
<rect x="27.6" y="30.599999999999998" width="17" height="1.9" fill="#e05a60"/><rect x="27.6" y="34.4" width="17" height="1.9" fill="#e05a60"/><rect x="27.6" y="38.199999999999996" width="17" height="1.9" fill="#e05a60"/><rect x="27.6" y="42.0" width="17" height="4" fill="#e05a60"/>
<rect x="27.6" y="29.299999999999997" width="8.8" height="7.6" fill="#3b86e8"/></g><clipPath id="f3"><circle cx="33" cy="37.8" r="8.3"/></clipPath>
<circle cx="33" cy="37.8" r="9.4" fill="#fff" stroke="#d9434b" stroke-width="1.3"/>
<g clip-path="url(#f3)"><rect x="24.5" y="29.299999999999997" width="17" height="17" fill="#fff"/>
<rect x="24.5" y="30.599999999999998" width="17" height="1.9" fill="#e05a60"/><rect x="24.5" y="34.4" width="17" height="1.9" fill="#e05a60"/><rect x="24.5" y="38.199999999999996" width="17" height="1.9" fill="#e05a60"/><rect x="24.5" y="42.0" width="17" height="4" fill="#e05a60"/>
<rect x="24.5" y="29.299999999999997" width="8.8" height="7.6" fill="#3b86e8"/></g><clipPath id="f2"><circle cx="30.7" cy="37.8" r="8.3"/></clipPath>
<circle cx="30.7" cy="37.8" r="9.4" fill="#fff" stroke="#d9434b" stroke-width="1.3"/>
<g clip-path="url(#f2)"><rect x="22.2" y="29.299999999999997" width="17" height="17" fill="#fff"/>
<rect x="22.2" y="30.599999999999998" width="17" height="1.9" fill="#e05a60"/><rect x="22.2" y="34.4" width="17" height="1.9" fill="#e05a60"/><rect x="22.2" y="38.199999999999996" width="17" height="1.9" fill="#e05a60"/><rect x="22.2" y="42.0" width="17" height="4" fill="#e05a60"/>
<rect x="22.2" y="29.299999999999997" width="8.8" height="7.6" fill="#3b86e8"/></g><clipPath id="f1"><circle cx="18.3" cy="37.8" r="8.3"/></clipPath>
<circle cx="18.3" cy="37.8" r="9.4" fill="#fff" stroke="#d9434b" stroke-width="1.3"/>
<g clip-path="url(#f1)"><rect x="9.8" y="29.299999999999997" width="17" height="17" fill="#fff"/>
<rect x="9.8" y="30.599999999999998" width="17" height="1.9" fill="#e05a60"/><rect x="9.8" y="34.4" width="17" height="1.9" fill="#e05a60"/><rect x="9.8" y="38.199999999999996" width="17" height="1.9" fill="#e05a60"/><rect x="9.8" y="42.0" width="17" height="4" fill="#e05a60"/>
<rect x="9.8" y="29.299999999999997" width="8.8" height="7.6" fill="#3b86e8"/></g>
</svg>
</div>
<div id="toolbar"></div>
<div style="position:absolute;left:274px;top:680px;width:1px;height:22px;background:#4a4a4a"></div>
<svg style="position:absolute;left:287px;top:680px" width="22" height="21" viewBox="0 0 22 21"><path d="M2 9V4H19V18H10" fill="none" stroke="#d1d4dc" stroke-width="1.4"/><path d="M2 7.5H19M6 1.5V5M15 1.5V5" fill="none" stroke="#d1d4dc" stroke-width="1.4"/><path d="M1 14H8M5.5 11.5L8 14 5.5 16.5" fill="none" stroke="#d1d4dc" stroke-width="1.4"/></svg>
<div class="t" style="left:28.18px;top:6.32px;font-size:15px;color:#b2b5be;transform:scaleX(1.0111)">Ethereum / U.S. Dollar <span style="color:#131722">·</span> 1D <span style="color:#131722">·</span> COINBASE</div>
<div class="t" style="left:313.41px;top:6.94px;font-size:13px;color:#131722;transform:scaleX(0.9737)"><span style="color:#b2b5be">O</span>3,247.32</div>
<div class="t" style="left:379.00px;top:6.94px;font-size:13px;color:#131722"><span style="color:#b2b5be">H</span>3,438.96</div>
<div class="t" style="left:444.87px;top:6.94px;font-size:13px;color:#131722;transform:scaleX(0.9934)"><span style="color:#b2b5be">L</span>3,213.36</div>
<div class="t" style="left:509.62px;top:6.94px;font-size:13px;color:#131722;transform:scaleX(0.9698)"><span style="color:#b2b5be">C</span>3,401.95</div>
<div class="t" style="left:576.29px;top:6.94px;font-size:13px;color:#131722;transform:scaleX(0.9322)">+154.47</div>
<div class="t" style="left:625.83px;top:7.10px;font-size:13px;color:#131722;transform:scaleX(0.9006)">(+4.76%)</div>
<div class="t" style="left:18.09px;top:34.46px;font-size:12px;color:#fff;font-weight:bold;transform:scaleX(1.0785)">3,401.95</div>
<div class="t" style="left:30.72px;top:49.74px;font-size:10.5px;color:#fff;font-weight:bold;transform:scaleX(0.8614)">SELL</div>
<div class="t" style="left:125.77px;top:34.46px;font-size:12px;color:#fff;font-weight:bold;transform:scaleX(1.0728)">3,402.63</div>
<div class="t" style="left:140.53px;top:49.74px;font-size:10.5px;color:#fff;font-weight:bold;transform:scaleX(0.9033)">BUY</div>
<div class="t" style="left:86.90px;top:43.22px;font-size:10px;color:#131722;transform:scaleX(0.9613)">0.68</div>
<div class="t" style="left:6.18px;top:74.18px;font-size:12px;color:#b2b5be;transform:scaleX(0.9461)">EMA</div>
<div class="t" style="left:39.00px;top:74.18px;font-size:12px;color:#d0555e;transform:scaleX(1.0744)">3,336.30</div>
<div class="t" style="left:6.18px;top:97.94px;font-size:12px;color:#b2b5be;transform:scaleX(0.9461)">EMA</div>
<div class="t" style="left:39.00px;top:97.94px;font-size:12px;color:#62656e;transform:scaleX(1.0728)">3,138.90</div>
<div class="t" style="left:7.17px;top:121.68px;font-size:12px;color:#b2b5be;transform:scaleX(1.0326)">Vol · ETH</div>
<div class="t" style="left:67.86px;top:121.68px;font-size:12px;color:#22a094">102.2 K</div>
<div class="t" style="left:1214.58px;top:8.02px;font-size:12px;color:#131722;transform:scaleX(0.7620)">USD</div>
<div class="t" style="left:1215.20px;top:31.96px;font-size:12px;color:#b2b5be;transform:scaleX(0.9962)">4,200.00</div>
<div class="t" style="left:1214.16px;top:137.68px;font-size:12px;color:#b2b5be;transform:scaleX(1.0180)">3,800.00</div>
<div class="t" style="left:1214.16px;top:296.42px;font-size:12px;color:#b2b5be;transform:scaleX(1.0180)">3,200.00</div>
<div class="t" style="left:1215.20px;top:402.94px;font-size:12px;color:#b2b5be;transform:scaleX(0.9962)">2,800.00</div>
<div class="t" style="left:1215.20px;top:456.08px;font-size:12px;color:#b2b5be;transform:scaleX(0.9962)">2,600.00</div>
<div class="t" style="left:1215.20px;top:508.54px;font-size:12px;color:#b2b5be;transform:scaleX(0.9962)">2,400.00</div>
<div class="t" style="left:1215.20px;top:561.68px;font-size:12px;color:#b2b5be;transform:scaleX(0.9962)">2,200.00</div>
<div class="t" style="left:1215.20px;top:614.94px;font-size:12px;color:#b2b5be;transform:scaleX(0.9962)">2,000.00</div>
<div class="t" style="left:1216.09px;top:85.46px;font-size:12px;color:#0d3a4c;transform:scaleX(0.9788)">4,000.00</div>
<div class="t" style="left:1216.09px;top:191.06px;font-size:12px;color:#0d3a4c;transform:scaleX(0.9788)">3,600.00</div>
<div class="t" style="left:1216.09px;top:349.92px;font-size:12px;color:#0d3a4c;transform:scaleX(0.9788)">3,000.00</div>
<div class="t" style="left:1215.20px;top:242.90px;font-size:12px;color:#ffffff;font-weight:bold;transform:scaleX(0.9893)">3,401.95</div>
<div class="t" style="left:1215.00px;top:257.60px;font-size:12px;color:#d1d4dc;font-weight:bold;transform:scaleX(0.9689)">07:36:46</div>
<div class="t" style="left:20.09px;top:651.00px;font-size:12px;color:#aeb1ba;transform:scaleX(0.9709)">Apr</div>
<div class="t" style="left:118.63px;top:651.00px;font-size:12px;color:#aeb1ba;transform:scaleX(0.9761)">May</div>
<div class="t" style="left:224.70px;top:651.00px;font-size:12px;color:#aeb1ba;transform:scaleX(0.9592)">Jun</div>
<div class="t" style="left:327.77px;top:651.00px;font-size:12px;color:#aeb1ba;transform:scaleX(0.9816)">Jul</div>
<div class="t" style="left:429.18px;top:651.00px;font-size:12px;color:#aeb1ba;transform:scaleX(0.9730)">Aug</div>
<div class="t" style="left:532.77px;top:651.00px;font-size:12px;color:#aeb1ba;transform:scaleX(0.9324)">Sep</div>
<div class="t" style="left:634.88px;top:651.00px;font-size:12px;color:#aeb1ba;transform:scaleX(0.9411)">Oct</div>
<div class="t" style="left:737.64px;top:651.00px;font-size:12px;color:#aeb1ba;transform:scaleX(1.0051)">Nov</div>
<div class="t" style="left:839.39px;top:651.00px;font-size:12px;color:#aeb1ba;transform:scaleX(0.9324)">Dec</div>
<div class="t" style="left:940.79px;top:651.20px;font-size:12px;color:#9598a1;transform:scaleX(1.0079)">2025</div>
<div class="t" style="left:1047.23px;top:651.00px;font-size:12px;color:#aeb1ba;transform:scaleX(0.9829)">Feb</div>
<div class="t" style="left:1140.99px;top:651.00px;font-size:12px;color:#aeb1ba;transform:scaleX(1.0241)">Mar</div>
<div class="t" style="left:12.87px;top:684.10px;font-size:13.5px;color:#d1d4dc;font-weight:bold;transform:scaleX(0.8522)">1D</div>
<div class="t" style="left:40.25px;top:684.10px;font-size:13.5px;color:#d1d4dc;font-weight:bold;transform:scaleX(0.8879)">5D</div>
<div class="t" style="left:68.45px;top:684.10px;font-size:13.5px;color:#d1d4dc;font-weight:bold;transform:scaleX(0.9038)">1M</div>
<div class="t" style="left:97.00px;top:684.10px;font-size:13.5px;color:#d1d4dc;font-weight:bold;transform:scaleX(0.9805)">3M</div>
<div class="t" style="left:125.88px;top:684.10px;font-size:13.5px;color:#d1d4dc;font-weight:bold;transform:scaleX(0.9733)">6M</div>
<div class="t" style="left:155.76px;top:684.10px;font-size:13.5px;color:#d1d4dc;font-weight:bold;transform:scaleX(0.9055)">YTD</div>
<div class="t" style="left:192.13px;top:684.10px;font-size:13.5px;color:#d1d4dc;font-weight:bold;transform:scaleX(0.9553)">1Y</div>
<div class="t" style="left:220.00px;top:684.10px;font-size:13.5px;color:#d1d4dc;font-weight:bold;transform:scaleX(0.9124)">5Y</div>
<div class="t" style="left:246.34px;top:684.10px;font-size:13.5px;color:#d1d4dc;font-weight:bold;transform:scaleX(0.9931)">All</div>
<div class="t" style="left:1178.51px;top:684.84px;font-size:13.5px;color:#d1d4dc;font-weight:bold;transform:scaleX(0.9722)">16:23:13 UTC</div>
</div></body></html>
